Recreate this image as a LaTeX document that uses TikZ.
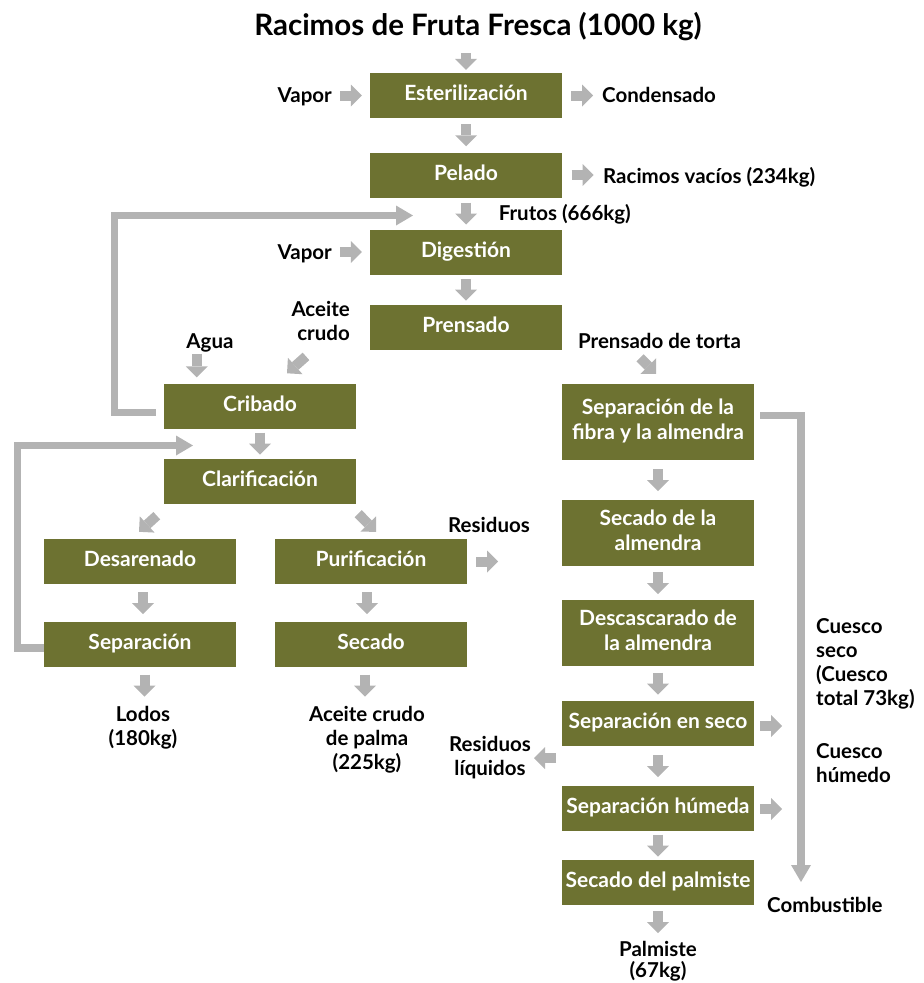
\documentclass[tikz,border=0pt]{standalone}
\usepackage{fontspec}
\setmainfont{Lato}
\usetikzlibrary{arrows.meta,calc}
\definecolor{olivebox}{HTML}{6D7231}
\definecolor{arrgray}{HTML}{B3B3B3}
\newcommand{\boxtxt}[1]{\begin{tabular}{@{}c@{}}#1\end{tabular}}
\newcommand{\labc}[1]{\begin{tabular}[t]{@{}c@{}}#1\end{tabular}}
\newcommand{\labl}[1]{\begin{tabular}[t]{@{}l@{}}#1\end{tabular}}
\newcommand{\labr}[1]{\begin{tabular}[t]{@{}r@{}}#1\end{tabular}}
\tikzset{
  procbox/.style={fill=olivebox, text=white, minimum width=192pt, minimum height=45pt,
    inner sep=0pt, font=\bfseries\fontsize{21}{25}\selectfont},
  lbl/.style={inner sep=0pt, text=black, font=\bfseries\fontsize{20.5}{24}\selectfont},
  ttl/.style={inner sep=0pt, text=black, font=\bfseries\fontsize{29.5}{34}\selectfont},
  fat/.style={draw=arrgray, line width=10pt,
    -{Triangle[width=22pt,length=11pt,line width=0pt]}},
  fbline/.style={draw=arrgray, line width=7.5pt,
    -{Triangle[width=20pt,length=17pt,line width=0pt]}},
}
% vertical link between two nodes, 22 long, centred in the gap
\newcommand{\vlink}[3][0]{%
  \draw[fat] ($($(#2.south)!.5!(#3.north)$)+(#1,-11)$) -- ($($(#2.south)!.5!(#3.north)$)+(#1,11)$);}
% horizontal link from a label (#1) to a box (#2), at the y of the box
\newcommand{\hlink}[2]{%
  \draw[fat] ($($(#1.east|-#2.west)!.5!(#2.west)$)+(-11,0)$) -- ($($(#1.east|-#2.west)!.5!(#2.west)$)+(11,0)$);}
% horizontal link from a box (#1) to a label (#2), at the y of the box
\newcommand{\hlinkout}[2]{%
  \draw[fat] ($($(#1.east)!.5!(#1.east-|#2.west)$)+(-11,0)$) -- ($($(#1.east)!.5!(#1.east-|#2.west)$)+(11,0)$);}
\begin{document}
\begin{tikzpicture}[x=1pt,y=-1pt]
\useasboundingbox (0,0) rectangle (924,983);

% title
\node[ttl, anchor=base] (title) at (478,35) {Racimos de Fruta Fresca (1000 kg)};

% process boxes
\node[procbox] (ester) at (466,95.5) {\boxtxt{Esterilización}};
\node[procbox] (pelado) at (466,175) {\boxtxt{Pelado}};
\node[procbox] (digest) at (466,252) {\boxtxt{Digestión}};
\node[procbox] (prensado) at (466,327) {\boxtxt{Prensado}};
\node[procbox] (cribado) at (260,406) {\boxtxt{Cribado}};
\node[procbox] (clarif) at (260,481) {\boxtxt{Clarificación}};
\node[procbox] (desaren) at (140,561.5) {\boxtxt{Desarenado}};
\node[procbox] (purif) at (371,561.5) {\boxtxt{Purificación}};
\node[procbox] (separ) at (140,644.5) {\boxtxt{Separación}};
\node[procbox] (secado) at (371,644.5) {\boxtxt{Secado}};
\node[procbox, minimum height=76pt] (sepfibra) at (658,422) {\boxtxt{Separación de la\\fibra y la almendra}};
\node[procbox, minimum height=66pt] (secalm) at (658,533) {\boxtxt{Secado de la\\almendra}};
\node[procbox, minimum height=66pt] (descas) at (658,633) {\boxtxt{Descascarado de\\la almendra}};
\node[procbox] (sepseco) at (658,723.5) {\boxtxt{Separación en seco}};
\node[procbox] (sephum) at (658,808.5) {\boxtxt{Separación húmeda}};
\node[procbox] (secpalm) at (658,882.5) {\boxtxt{Secado del palmiste}};

% labels
\node[lbl, anchor=base east] (vapor1) at (332,102) {Vapor};
\node[lbl, anchor=base west] (cond) at (602,102) {Condensado};
\node[lbl, anchor=base west] (racvac) at (603,183) {Racimos vacíos (234kg)};
\node[lbl, anchor=base east] (frutos) at (631,220) {Frutos (666kg)};
\node[lbl, anchor=base east] (vapor2) at (332,259) {Vapor};
\node[lbl, anchor=base east] (aceite) at (350,316) {\labr{Aceite\\crudo}};
\node[lbl, anchor=base] (agua) at (210,348) {Agua};
\node[lbl, anchor=base] (torta) at (659.5,348) {Prensado de torta};
\node[lbl, anchor=base west] (resid) at (448,532) {Residuos};
\node[lbl, anchor=base] (lodos) at (143,721) {\labc{Lodos\\(180kg)}};
\node[lbl, anchor=base] (aceitecp) at (367,721) {\labc{Aceite crudo\\de palma\\(225kg)}};
\node[lbl, anchor=base] (reslq) at (490,751) {\labc{Residuos\\líquidos}};
\node[lbl, anchor=base] (palmiste) at (658,956) {\labc{Palmiste\\[-3pt](67kg)}};
\node[lbl, anchor=base west] (cuesco1) at (816,633) {\labl{Cuesco\\seco\\(Cuesco\\total 73kg)}};
\node[lbl, anchor=base west] (cuesco2) at (816,758) {\labl{Cuesco\\húmedo}};
\node[lbl, anchor=base west] (combust) at (767,912) {Combustible};

% free ends
\coordinate (fb1end) at (413,215.5);
\coordinate (fb2end) at (193,445.5);
\coordinate (fuelend) at (801,882);

% vertical chain arrows
\draw[fat] ([shift={(0,-20)}]ester.north) -- ([shift={(0,-3)}]ester.north);
\vlink{ester}{pelado}
\vlink{pelado}{digest}
\vlink{digest}{prensado}
\vlink{cribado}{clarif}
\vlink[3]{desaren}{separ}
\vlink[-4]{purif}{secado}
\vlink[3]{separ}{lodos}
\vlink[-4]{secado}{aceitecp}
\vlink{sepfibra}{secalm}
\vlink{secalm}{descas}
\vlink{descas}{sepseco}
\vlink{sepseco}{sephum}
\vlink{sephum}{secpalm}
\vlink{secpalm}{palmiste}

% horizontal arrows
\hlink{vapor1}{ester}
\hlinkout{ester}{cond}
\hlinkout{pelado}{racvac}
\hlink{vapor2}{digest}
\draw[fat] ([xshift=9pt]purif.east) -- ++(22,0);
\draw[fat] ([shift={(6,2.5)}]sepseco.east) -- ++(22,0);
\draw[fat] ([shift={(6,0.5)}]sephum.east) -- ++(22,0);
\draw[fat] ([xshift=25pt]reslq.east) -- ([xshift=3pt]reslq.east);

% inputs / diagonal arrows
\draw[fat] ([shift={(33,-29)}]cribado.north west) -- ([shift={(33,-6)}]cribado.north west);
\draw[fat] ([shift={(-44,9)}]aceite.south east) -- ([shift={(27,-10)}]cribado.north);
\draw[fat] ([shift={(-7,12)}]clarif.south west) -- ([shift={(-1,-7)}]desaren.north);
\draw[fat] ([shift={(2,10)}]clarif.south east) -- ([shift={(5,-7)}]purif.north);
\draw[fat] ([shift={(-18,-26)}]sepfibra.north) -- ([shift={(-2,-10)}]sepfibra.north);

% recirculation and fuel lines
\draw[fbline] ([shift={(-8,6.5)}]cribado.west) -- ++(-41.5,0) |- (fb1end);
\draw[fbline] ([shift={(0,3.5)}]separ.west) -- ++(-26.5,0) |- (fb2end);
\draw[fbline] ([shift={(6,-6.5)}]sepfibra.east) -| (fuelend);
\end{tikzpicture}
\end{document}
